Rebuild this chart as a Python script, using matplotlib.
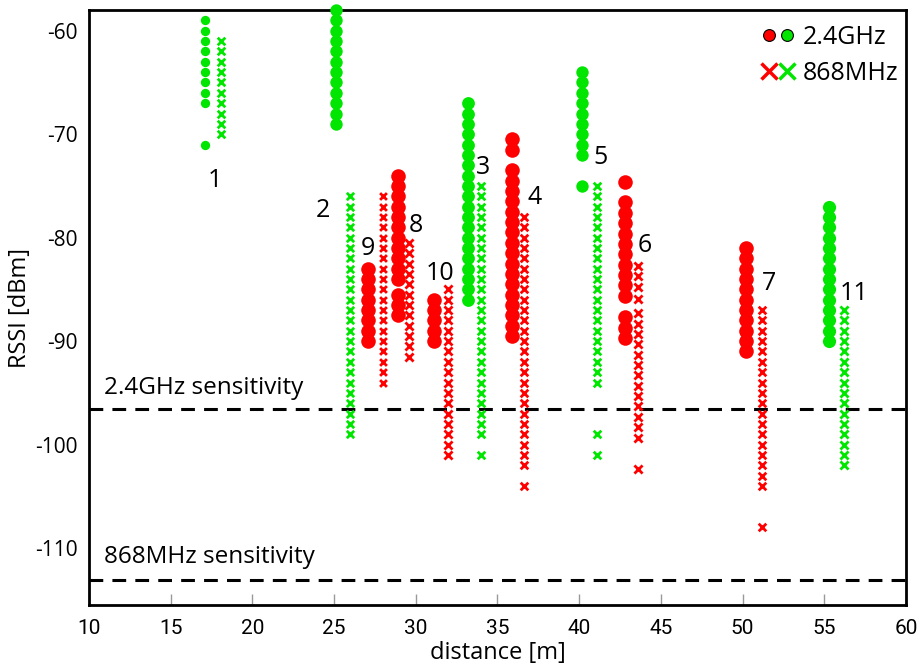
import numpy as np
import matplotlib
matplotlib.use('Agg')
import matplotlib.pyplot as plt
from matplotlib import font_manager
from matplotlib.lines import Line2D
from matplotlib.legend_handler import HandlerTuple

plt.rcParams['axes.unicode_minus'] = False

# measurement columns: (distance, RSSI values)
d_24 = [17.1, 25.1, 27.1, 28.9, 31.1, 33.2, 35.9, 40.15, 42.8, 50.2, 55.3]
d_868 = [18.1, 26.0, 28.0, 29.6, 32.0, 34.0, 36.6, 41.1, 43.6, 51.2, 56.2]
node_24 = [1, 2, 9, 8, 10, 3, 4, 5, 6, 7, 11]

rssi_24 = [
    [-59, -60, -61, -62, -63, -64, -65, -66, -67, -71],
    [-58, -59, -60, -61, -62, -63, -64, -65, -66, -67, -68, -69],
    [-83, -84, -85, -86, -87, -88, -89, -90],
    [-74, -75, -76, -77, -78, -79, -80, -81, -82, -83, -84, -85.5, -86.5, -87.5],
    [-86, -87, -88, -89, -90],
    [-67, -68, -69, -70, -71, -72, -73, -74, -75, -76, -77, -78, -79, -80,
     -81, -82, -83, -84, -85, -86],
    [-70.5, -71.5, -73.5, -74.5, -75.5, -76.5, -77.5, -78.5, -79.5, -80.5,
     -81.5, -82.5, -83.5, -84.5, -85.5, -86.5, -87.5, -88.5, -89.5],
    [-64, -65, -66, -67, -68, -69, -70, -71, -72, -75],
    [-74.6, -76.6, -77.6, -78.6, -79.6, -80.6, -81.6, -82.6, -83.6, -84.6,
     -85.6, -87.7, -88.7, -89.7],
    [-81, -82, -83, -84, -85, -86, -87, -88, -89, -90, -91],
    [-77, -78, -79, -80, -81, -82, -83, -84, -85, -86, -87, -88, -89, -90],
]

rssi_868 = [
    [-61, -62, -63, -64, -65, -66, -67, -68, -69, -70],
    [-76, -77, -78, -79, -80, -81, -82, -83, -84, -85, -86, -87, -88, -89,
     -90, -91, -92, -93, -94, -95, -96, -97, -98, -99],
    [-76, -77, -78, -79, -80, -81, -82, -83, -84, -85, -86, -87, -88, -89,
     -90, -91, -92, -93, -94],
    [-80.5, -81.5, -82.5, -83.5, -84.5, -85.5, -86.5, -87.5, -88.5, -89.5,
     -90.5, -91.5],
    [-85, -86, -87, -88, -89, -90, -91, -92, -93, -94, -95, -96, -97, -98,
     -99, -100, -101],
    [-75, -76, -77, -78, -79, -80, -81, -82, -83, -84, -85, -86, -87, -88,
     -89, -90, -91, -92, -93, -94, -95, -96, -97, -98, -99, -101],
    [-78, -79, -80, -81, -82, -83, -84, -85, -86, -87, -88, -89, -90, -91,
     -92, -93, -94, -95, -96, -97, -98, -99, -100, -101, -102, -104],
    [-75, -76, -77, -78, -79, -80, -81, -82, -83, -84, -85, -86, -87, -88,
     -89, -90, -91, -92, -93, -94, -99, -101],
    [-82.7, -83.7, -84.8, -85.9, -87.3, -88.3, -89.3, -90.3, -91.3, -92.3,
     -93.3, -94.3, -95.3, -96.3, -97.3, -98.3, -99.4, -102.4],
    [-87, -88, -89, -90, -91, -92, -93, -94, -95, -96, -97, -98, -99, -100,
     -101, -102, -103, -104, -108],
    [-87, -88, -89, -90, -91, -92, -93, -94, -95, -96, -97, -98, -99, -100,
     -101, -102],
]

color_24 = ['g', 'g', 'r', 'r', 'r', 'g', 'r', 'g', 'r', 'r', 'g']

sens_24 = -96.6
sens_868 = -113.1

RED = '#ff0000'
GREEN = '#00e600'
cmap = {'r': RED, 'g': GREEN}

names = {f.name for f in font_manager.fontManager.ttflist}
narrow = 'Liberation Sans Narrow' if 'Liberation Sans Narrow' in names else 'Roboto'
body = 'Open Sans'

fig = plt.figure(figsize=(9.23, 6.69), dpi=100)
ax = fig.add_axes([0.0964, 0.0957, 0.8852, 0.8893])

circ_size = [45, 80, 110, 110, 110, 85, 110, 80, 110, 110, 90]
x_size = [30, 28, 24, 34, 34, 30, 30, 30, 34, 30, 34]

for i in range(len(d_24)):
    c = cmap[color_24[i]]
    y = rssi_24[i]
    ax.scatter([d_24[i]] * len(y), y, s=circ_size[i], color=c, marker='o',
               linewidths=0, zorder=3, clip_on=False)
    y2 = rssi_868[i]
    ax.scatter([d_868[i]] * len(y2), y2, s=x_size[i], color=c, marker='x',
               linewidths=2.0, zorder=3, clip_on=False)

# node labels
lab_pos = {1: (17.7, -74.5), 2: (24.3, -77.4), 9: (27.1, -81.0), 8: (30.0, -78.8),
           10: (31.5, -83.5), 3: (34.1, -73.2), 4: (37.3, -76.1), 5: (41.3, -72.3),
           6: (44.0, -80.8), 7: (51.6, -84.4), 11: (56.8, -85.4)}
for n in node_24:
    x, y = lab_pos[n]
    ax.text(x, y, str(n), fontsize=18, family=body, ha='center', va='center')

ax.axhline(sens_24, color='black', lw=2.2, ls=(0, (4.5, 3)), zorder=2)
ax.axhline(sens_868, color='black', lw=2.2, ls=(0, (4.5, 3)), zorder=2)
ax.text(10.9, sens_24 + 2.1, '2.4GHz sensitivity', fontsize=17.5, family=body,
        va='center', ha='left')
ax.text(10.9, sens_868 + 2.2, '868MHz sensitivity', fontsize=17.5, family=body,
        va='center', ha='left')

ax.set_xlim(10, 60)
ax.set_ylim(-115.5, -58)
ax.set_xticks(np.arange(10, 61, 5))
ax.set_yticks([-60, -70, -80, -90, -100, -110])
ax.tick_params(axis='x', direction='in', length=8, color='#999999', width=1, pad=10)
ax.tick_params(axis='y', direction='in', length=0, pad=8)
for lab in ax.get_xticklabels():
    lab.set_family(narrow)
    lab.set_fontsize(15)
for lab in ax.get_yticklabels():
    lab.set_family(body)
    lab.set_fontsize(15)
for sp in ax.spines.values():
    sp.set_linewidth(2)

ax.set_xlabel('distance [m]', fontsize=17, family=body, labelpad=2)
ax.set_ylabel('RSSI [dBm]', fontsize=17, family=body, labelpad=2)

h1 = (Line2D([], [], marker='o', color=RED, mec='black', mew=0.8, ms=8.5, ls=''),
      Line2D([], [], marker='o', color=GREEN, mec='black', mew=0.8, ms=8.5, ls=''))
h2 = (Line2D([], [], marker='x', color=RED, mew=2.5, ms=12, ls=''),
      Line2D([], [], marker='x', color=GREEN, mew=2.5, ms=12, ls=''))
leg = ax.legend([h1, h2], ['2.4GHz', '868MHz'],
                handler_map={tuple: HandlerTuple(ndivide=None, pad=0.1)},
                loc='upper right', bbox_to_anchor=(1.0, 0.988), frameon=False,
                handlelength=1.3, handletextpad=0.35, borderaxespad=0.1,
                borderpad=0.2, labelspacing=0.45, prop={'family': body, 'size': 18})

fig.savefig('out.png', dpi=100)
